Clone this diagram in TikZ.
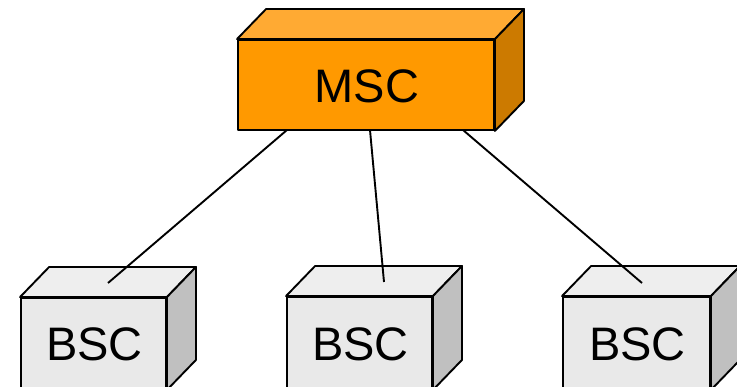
\documentclass[tikz,border=0pt]{standalone}
\usepackage{fontspec}
\setmainfont{Liberation Sans}
\definecolor{mscfront}{HTML}{FF9900}
\definecolor{msctop}{HTML}{FFAA33}
\definecolor{mscside}{HTML}{CC7A00}
\definecolor{bscfront}{HTML}{E9E9E9}
\definecolor{bsctop}{HTML}{EEEEEE}
\definecolor{bscside}{HTML}{C0C0C0}
\tikzset{
  edge/.style={draw=black, line width=1.9pt, line join=round},
  frontbox/.style={edge, rectangle, inner sep=0pt},
  label/.style={font=\fontsize{47}{50}\selectfont, inner sep=0pt},
  link/.style={draw=black, line width=1.9pt},
}
\newcommand\mycube[7]{%
  \node[frontbox, fill=#7front, minimum width=#4pt, minimum height=#5pt] (#1) at (#2,#3) {};
  \path[edge, fill=#7top] (#1.north west) -- ++(29,-30) -- ([xshift=29pt,yshift=30pt]#1.north east) -- (#1.north east) -- cycle;
  \path[edge, fill=#7side] (#1.north east) -- ++(29,-30) -- ([xshift=29pt,yshift=30pt]#1.south east) -- (#1.south east) -- cycle;
  \node[label] (#1t) at (#2+1,#3+1) {#6};
}
\begin{document}
\begin{tikzpicture}[x=1pt, y=-1pt]
\useasboundingbox (0,0) rectangle (737,387);
\clip (0,0) rectangle (737,387);
\mycube{bsca}{93.5}{343.5}{145}{91}{BSC}{bsc}
\mycube{bscb}{359.5}{343}{145}{92}{BSC}{bsc}
\mycube{bscc}{636.5}{343}{147}{92}{BSC}{bsc}
\mycube{msc}{366}{85}{256}{90}{MSC}{msc}
\coordinate (ma) at (287,130);
\coordinate (mb) at (370,130);
\coordinate (mc) at (463,130);
\coordinate (ea) at (108,283);
\coordinate (eb) at (384,282);
\coordinate (ec) at (642,283);
\draw[link] (ma) -- (ea);
\draw[link] (mb) -- (eb);
\draw[link] (mc) -- (ec);
\end{tikzpicture}
\end{document}
